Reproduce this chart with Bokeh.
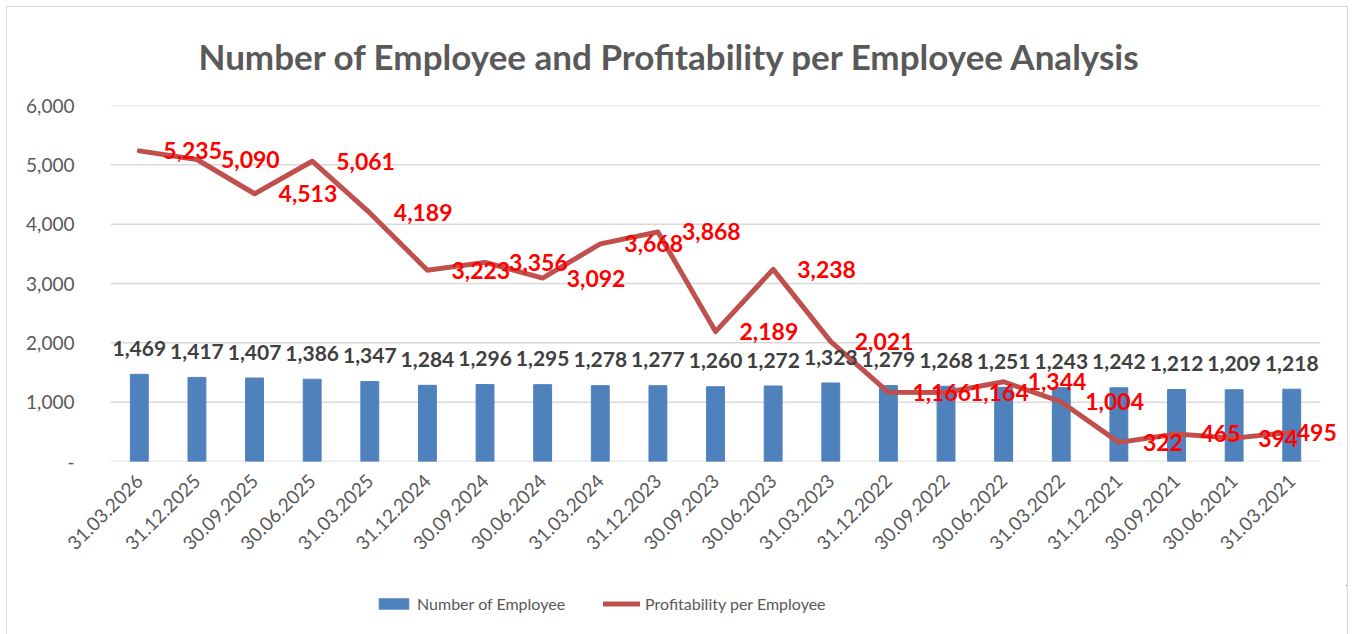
from bokeh.plotting import figure
from bokeh.layouts import column
from bokeh.models import (ColumnDataSource, Range1d, FixedTicker,
                          Legend, LegendItem)
from bokeh.core.properties import value
from bokeh.embed import file_html
from bokeh.resources import INLINE

dates = ["31.03.2026", "31.12.2025", "30.09.2025", "30.06.2025", "31.03.2025",
         "31.12.2024", "30.09.2024", "30.06.2024", "31.03.2024", "31.12.2023",
         "30.09.2023", "30.06.2023", "31.03.2023", "31.12.2022", "30.09.2022",
         "30.06.2022", "31.03.2022", "31.12.2021", "30.09.2021", "30.06.2021",
         "31.03.2021"]
employees = [1469, 1417, 1407, 1386, 1347, 1284, 1296, 1295, 1278, 1277, 1260,
             1272, 1323, 1279, 1268, 1251, 1243, 1242, 1212, 1209, 1218]
profit_per_employee = [5235, 5090, 4513, 5061, 4189, 3223, 3356, 3092, 3668,
                       3868, 2189, 3238, 2021, 1166, 1164, 1344, 1004, 322,
                       465, 394, 495]
y_ticks = [0, 1000, 2000, 3000, 4000, 5000, 6000]

n = len(dates)
xs = list(range(n))  # category index on the x axis

# labels sit right of each point; the last one is pulled back inside the chart
label_dx = [24] * n
label_dx[-1] = 5

src = ColumnDataSource(dict(
    x=xs,
    emp=employees,
    prof=profit_per_employee,
    emp_lbl=[f"{v:,}" for v in employees],
    prof_lbl=[f"{v:,}" for v in profit_per_employee],
    dx=label_dx,
))
grid_src = ColumnDataSource(dict(y=y_ticks))

FONT = "Lato"
GRAY = "#595959"
BAR_COLOR = "#4f81bd"
LINE_COLOR = "#c0504d"

right_room = 0.45
cat_px = 1210 / n
frame_w = round(cat_px * (n + right_room))

p = figure(x_range=Range1d(-0.5, n - 0.5 + right_room),
           y_range=Range1d(0, 6000),
           frame_width=frame_w, frame_height=356,
           output_backend="svg", toolbar_location=None,
           min_border_left=103, min_border_right=1,
           min_border_top=98, min_border_bottom=124)

p.title.text = "Number of Employee and Profitability per Employee Analysis"
p.title.align = "left"
p.title.vertical_align = "top"
p.title.text_font = FONT
p.title.text_font_size = "35px"
p.title.text_font_style = "bold"
p.title.text_color = GRAY
p.title.offset = 88
p.title.standoff = 54

p.outline_line_color = None
p.background_fill_color = "white"
p.border_fill_color = "white"

p.xgrid.grid_line_color = None
p.ygrid.grid_line_color = None
p.segment(x0=-0.5, x1=n - 0.5, y0="y", y1="y", source=grid_src,
          line_color="#d9d9d9", line_width=1.5)

# y axis
p.yaxis.ticker = FixedTicker(ticks=y_ticks)
p.yaxis.major_label_overrides = {t: ("-" if t == 0 else f"{t:,}") for t in y_ticks}
p.yaxis.axis_line_color = None
p.yaxis.major_tick_line_color = None
p.yaxis.minor_tick_line_color = None
p.yaxis.major_label_text_font = FONT
p.yaxis.major_label_text_font_size = "19px"
p.yaxis.major_label_text_color = GRAY
p.yaxis.major_label_standoff = 30

# x axis (categories)
p.xaxis.ticker = FixedTicker(ticks=xs)
p.xaxis.major_label_overrides = {i: d for i, d in zip(xs, dates)}
p.xaxis.axis_line_color = None
p.xaxis.major_tick_line_color = None
p.xaxis.minor_tick_line_color = None
p.xaxis.major_label_orientation = 0.785398
p.xaxis.major_label_text_font = FONT
p.xaxis.major_label_text_font_size = "19px"
p.xaxis.major_label_text_color = GRAY
p.xaxis.major_label_standoff = 10

p.vbar(x="x", top="emp", width=0.31, source=src,
       fill_color=BAR_COLOR, line_color=BAR_COLOR)
p.line(x="x", y="prof", source=src, line_color=LINE_COLOR,
       line_width=5, line_join="round", line_cap="round")

p.text(x="x", y="emp", text="emp_lbl", source=src,
       text_font=value(FONT), text_font_size="21px", text_font_style="bold",
       text_color="#404040", text_align="center", text_baseline="alphabetic",
       y_offset=-26)
p.text(x="x", y="prof", text="prof_lbl", source=src,
       text_font=value(FONT), text_font_size="23px", text_font_style="bold",
       text_color="#ff0000", text_align="left", text_baseline="middle",
       x_offset="dx")

# legend strip under the chart (its renderers share the data but lie out of view)
leg_w = 103 + frame_w + 1
lp = figure(width=leg_w, height=49, x_range=Range1d(-100, -99),
            y_range=Range1d(-100, -99),
            output_backend="svg", toolbar_location=None,
            x_axis_type=None, y_axis_type=None,
            min_border_left=0, min_border_right=0,
            min_border_top=0, min_border_bottom=0)
lp.outline_line_color = None
lp.background_fill_color = "white"
lp.border_fill_color = "white"
leg_bar = lp.vbar(x="x", top="emp", width=0.31, source=src,
                  fill_color=BAR_COLOR, line_color=BAR_COLOR)
leg_line = lp.line(x="x", y="prof", source=src, line_color=LINE_COLOR,
                   line_width=5, line_cap="round")

legend = Legend(items=[LegendItem(label="Number of Employee", renderers=[leg_bar]),
                       LegendItem(label="Profitability per Employee", renderers=[leg_line])],
                orientation="horizontal", location=(265, 21),
                glyph_width=37, glyph_height=13, label_standoff=5, spacing=38,
                label_text_font=FONT, label_text_font_size="16px",
                label_text_color=GRAY, border_line_color=None,
                background_fill_alpha=0, padding=0, margin=0)
lp.add_layout(legend, "center")

layout = column(p, lp, spacing=0)
layout.styles = {"margin-left": "7px", "margin-top": "7px",
                 "outline": "1.5px solid #d9d9d9", "outline-offset": "0px"}

open("out.html", "w").write(file_html(layout, INLINE))
